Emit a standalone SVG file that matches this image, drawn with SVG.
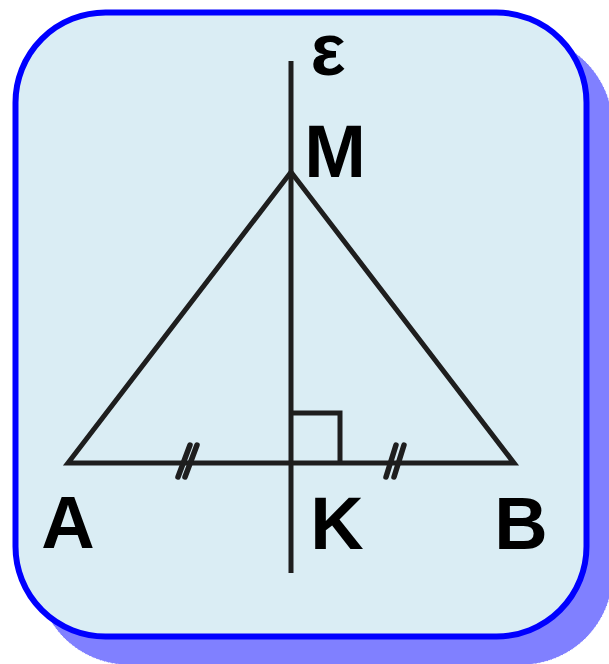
<svg xmlns="http://www.w3.org/2000/svg" width="609" height="664" viewBox="0 0 609 664">
<style>
.ln{stroke:#1e1e1e;stroke-width:5;fill:none;stroke-linejoin:miter}
.tk{stroke:#1e1e1e;stroke-width:5.5;fill:none;stroke-linecap:round}
.lb{font-family:"Liberation Sans",Arial,sans-serif;font-weight:bold;font-size:74px;fill:#000;text-anchor:middle}
</style>
<g id="frame">
<rect x="37" y="35" width="576" height="630" rx="92" fill="#8080ff" stroke="#ffffff" stroke-width="1" stroke-dasharray="3 1"/>
<rect x="15.5" y="12.5" width="571" height="624" rx="90" fill="#daedf4" stroke="#0000ff" stroke-width="6"/>
</g>
<g id="connectors">
<line class="ln" x1="291" y1="61" x2="291" y2="573"/>
<polygon class="ln" points="68,463 291,172 514,463"/>
<polyline class="ln" points="291,413 340,413 340,463"/>
<line class="tk" x1="190" y1="445" x2="178" y2="477"/>
<line class="tk" x1="197" y1="445" x2="185" y2="477"/>
<line class="tk" x1="396" y1="445" x2="386" y2="477"/>
<line class="tk" x1="404" y1="445" x2="394" y2="477"/>
</g>
<g id="label-eps"><text class="lb" x="328" y="75">ε</text></g>
<g id="node-M"><text class="lb" x="335" y="177">M</text></g>
<g id="node-A"><text class="lb" x="68" y="548">A</text></g>
<g id="node-K"><text class="lb" x="337" y="549">K</text></g>
<g id="node-B"><text class="lb" x="521" y="549">B</text></g>
</svg>
